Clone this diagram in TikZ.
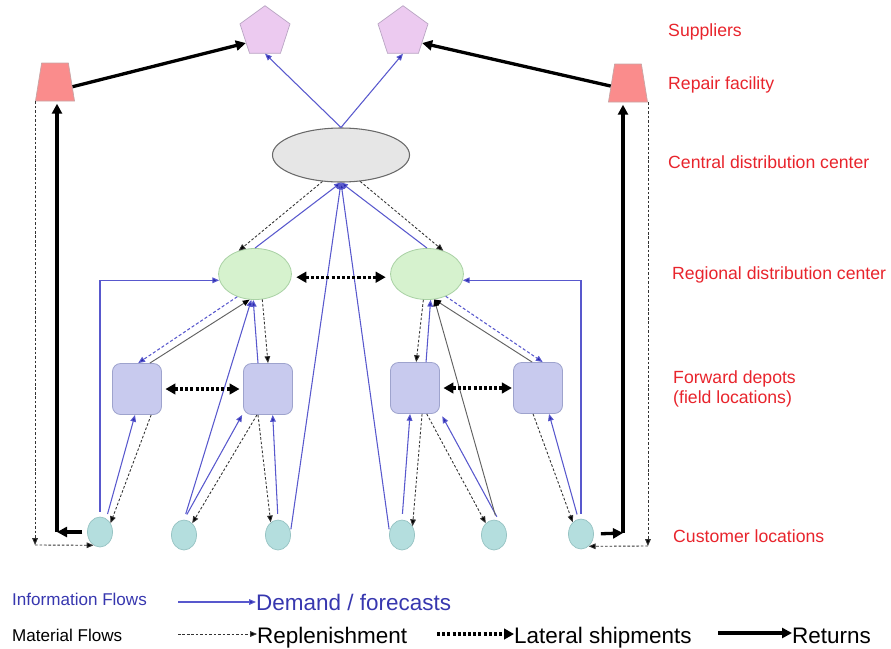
\documentclass[tikz,border=0pt]{standalone}
\usepackage{fontspec}
\setmainfont{Liberation Sans}
\usetikzlibrary{arrows.meta,shapes.geometric}

\definecolor{infoline}{RGB}{88,88,205}
\definecolor{infohead}{RGB}{40,40,170}
\definecolor{infotext}{RGB}{55,55,175}
\definecolor{lblred}{RGB}{232,36,44}
\definecolor{supfill}{RGB}{236,202,240}
\definecolor{supedge}{RGB}{185,165,195}
\definecolor{repfill}{RGB}{250,140,140}
\definecolor{repedge}{RGB}{200,165,165}
\definecolor{cdcfill}{RGB}{230,230,230}
\definecolor{cdcedge}{RGB}{105,105,105}
\definecolor{rdcfill}{RGB}{214,242,206}
\definecolor{rdcedge}{RGB}{170,210,165}
\definecolor{fdfill}{RGB}{200,202,238}
\definecolor{fdedge}{RGB}{158,163,205}
\definecolor{cufill}{RGB}{180,222,222}
\definecolor{cuedge}{RGB}{150,195,195}

\tikzset{
  supplier/.style={regular polygon, regular polygon sides=5, minimum size=44.7pt,
    inner sep=0pt, fill=supfill, draw=supedge, line width=0.6pt},
  repair/.style={trapezium, trapezium left angle=77, trapezium right angle=77,
    trapezium stretches=true, minimum width=33.2pt, minimum height=32.3pt,
    inner sep=0.5pt, fill=repfill, draw=repedge, line width=0.6pt},
  central/.style={ellipse, minimum width=116.5pt, minimum height=45.9pt,
    inner sep=0pt, fill=cdcfill, draw=cdcedge, line width=0.9pt},
  regional/.style={ellipse, minimum width=62pt, minimum height=43.4pt,
    inner sep=0pt, fill=rdcfill, draw=rdcedge, line width=0.7pt},
  depot/.style={rectangle, rounded corners=7pt, minimum width=41.7pt,
    minimum height=43.4pt, inner sep=0pt, fill=fdfill, draw=fdedge, line width=0.7pt},
  customer/.style={ellipse, minimum width=21.3pt, minimum height=25.5pt,
    inner sep=0pt, fill=cufill, draw=cuedge, line width=0.6pt},
  lvl/.style={text=lblred, font=\fontsize{15pt}{18pt}\selectfont, anchor=base west, inner sep=0pt},
  legsmall/.style={font=\fontsize{14.5pt}{17pt}\selectfont, anchor=base west, inner sep=0pt},
  legbig/.style={font=\fontsize{19.1pt}{22pt}\selectfont, anchor=base west, inner sep=0pt},
  info/.style={draw=infoline, line width=0.9pt,
    -{Triangle[length=5.8pt,width=4.8pt,fill=infohead]}},
  infodash/.style={info, dash pattern=on 2.6pt off 1.8pt},
  report/.style={draw=black!62, line width=0.8pt,
    -{Triangle[length=5.8pt,width=4.8pt,fill=black,color=black]}},
  repl/.style={draw=black!80, line width=0.75pt, dash pattern=on 2.2pt off 1.6pt,
    -{Triangle[length=5.8pt,width=4.8pt,fill=black]}},
  lateral/.style={line width=2.6pt, dash pattern=on 2.6pt off 1.8pt,
    {Triangle[length=8.5pt,width=9pt]}-{Triangle[length=8.5pt,width=9pt]}},
  lateralone/.style={line width=2.6pt, dash pattern=on 2.6pt off 1.8pt,
    -{Triangle[length=8.5pt,width=9pt]}},
  ret/.style={line width=2.8pt, -{Triangle[length=8.5pt,width=8.5pt]}}
}

\begin{document}
\begin{tikzpicture}[x=0.85pt,y=-0.85pt]
\useasboundingbox (0,0) rectangle (891,648);

% ---- facilities ----
\node[supplier] (sup1) at (265,32) {};
\node[supplier] (sup2) at (403,32) {};
\node[repair] (rep1) at (55,82) {};
\node[repair] (rep2) at (628,83) {};
\node[central] (cdc) at (341,155) {};
\node[regional] (rdc1) at (255,274) {};
\node[regional] (rdc2) at (427,274) {};
\node[depot] (fd1) at (137,389) {};
\node[depot] (fd2) at (268,389) {};
\node[depot] (fd3) at (415,388) {};
\node[depot] (fd4) at (538,388) {};
\node[customer] (cu1) at (100,532) {};
\node[customer] (cu2) at (184,535) {};
\node[customer] (cu3) at (278,535) {};
\node[customer] (cu4) at (402,535) {};
\node[customer] (cu5) at (494,535) {};
\node[customer] (cu6) at (581,534) {};

% ---- level labels ----
\node[lvl] (tSup) at (668,36) {Suppliers};
\node[lvl] (tRep) at (668,89) {Repair facility};
\node[lvl] (tCdc) at (668,168) {Central distribution center};
\node[lvl] (tRdc) at (672,279) {Regional distribution center};
\node[lvl] (tFd1) at (673,383) {Forward depots};
\node[lvl] (tFd2) at (673,403) {(field locations)};
\node[lvl] (tCu) at (673,542) {Customer locations};

% ---- corner points of the elbow paths ----
\coordinate (retL) at (57,532);
\coordinate (retR) at (623,533);
\coordinate (replL) at (0,545);
\coordinate (replR) at (0,546);

% ---- demand / forecast information ----
\draw[info] (cdc.north) -- (sup1.south);
\draw[info] (cdc.north) -- (sup2.south);
\draw[info] (rdc1.north) -- (cdc.south);
\draw[info] (rdc2.north) -- (cdc.south);
\draw[info, shorten <=2pt] (cu3.15) -- (cdc.south);
\draw[info, shorten <=2pt] (cu4.165) -- (cdc.south);
\draw[info, shorten <=4pt] (cu1.north) |- (rdc1.190);
\draw[info, shorten <=4pt] (cu6.north) |- (rdc2.350);
\draw[info, shorten <=5pt] (cu2.north) -- (rdc1.262);
\draw[info, shorten <=5pt] (cu2.north) -- ([xshift=-22pt]fd2.south);
\draw[info, shorten <=4pt] (cu1.65) -- ([xshift=-1.7pt]fd1.south);
\draw[info, shorten <=5pt] (cu3.north) -- ([xshift=4pt]fd2.south);
\draw[info] ([xshift=-8.5pt]fd2.north) -- (rdc1.266);
\draw[info] ([xshift=9.4pt]fd3.north) -- (rdc2.278);
\draw[info, shorten <=5pt] (cu4.north) -- ([xshift=-4.2pt]fd3.south);
\draw[info, shorten <=4pt] (cu5.70) -- ([xshift=2pt,yshift=-2pt]fd3.south east);
\draw[info, shorten <=4pt] (cu6.100) -- ([xshift=9.4pt]fd4.south);
\draw[infodash] (rdc1.232) -- ([xshift=1pt]fd1.north);
\draw[infodash] (rdc2.310) -- ([xshift=4pt]fd4.north);
\draw[report] ([xshift=11pt]fd1.north) -- (rdc1.258);
\draw[report, shorten <=4pt] (cu5.80) -- (rdc2.286);
\draw[report] ([xshift=-5pt]fd4.north) -- (rdc2.286);

% ---- replenishment ----
\draw[repl] (cdc.235) -- (rdc1.125);
\draw[repl] (cdc.306) -- (rdc2.55);
\draw[repl] (rdc1.286) -- (fd2.north);
\draw[repl] (rdc2.262) -- ([xshift=1pt]fd3.north);
\draw[repl] ([xshift=12pt]fd1.south) -- (cu1.40);
\draw[repl] ([xshift=-9.4pt]fd2.south) -- (cu2.55);
\draw[repl] ([xshift=-8.5pt]fd2.south) -- (cu3.120);
\draw[repl] ([xshift=6pt]fd3.south) -- (cu4.40);
\draw[repl] ([xshift=10pt]fd3.south) -- (cu5.125);
\draw[repl] ([xshift=-4.2pt]fd4.south) -- (cu6.125);
\draw[repl] (rep1.bottom left corner) -- (rep1.bottom left corner |- replL);
\draw[repl] (rep1.bottom left corner |- replL) -- (cu1.244);
\draw[repl] (rep2.bottom right corner) -- (rep2.bottom right corner |- replR);
\draw[repl] (rep2.bottom right corner |- replR) -- (cu6.302);

% ---- lateral shipments ----
\draw[lateral, shorten <=4pt, shorten >=4pt] (rdc1.-5) -- (rdc2.185);
\draw[lateral, shorten <=3pt, shorten >=3pt] (fd1.east) -- (fd2.west);
\draw[lateral, shorten <=3pt, shorten >=1pt] (fd3.east) -- (fd4.west);

% ---- returns ----
\draw[ret] (rep1.345) -- (sup1.210);
\draw[ret] (rep2.190) -- (sup2.330);
\draw[ret, shorten <=4pt] (cu1.west) -- (retL);
\draw[ret, shorten >=2pt] (retL) -- (retL |- rep1.south);
\draw[ret, shorten <=6pt] (cu6.east) -- (retR);
\draw[ret, shorten >=2pt] (retR) -- (retR |- rep2.south);

% ---- legend ----
\node[legsmall, text=infotext] (lgInfo) at (12,605) {Information Flows};
\node[legbig, text=infotext] (lgDemand) at (256,610) {Demand / forecasts};
\node[legsmall] (lgMat) at (12,641) {Material Flows};
\node[legbig] (lgRepl) at (257,643) {Replenishment};
\node[legbig] (lgLat) at (514,643) {Lateral shipments};
\node[legbig] (lgRet) at (792,643) {Returns};
\coordinate (k1) at (178,602);
\coordinate (k2) at (178,634);
\coordinate (k3) at (437,634);
\coordinate (k4) at (718,633);
\draw[info] (k1) -- (k1 -| lgDemand.west);
\draw[repl] (k2) -- (k2 -| lgRepl.west);
\draw[lateralone] (k3) -- (k3 -| lgLat.west);
\draw[ret] (k4) -- (k4 -| lgRet.west);
\end{tikzpicture}
\end{document}
